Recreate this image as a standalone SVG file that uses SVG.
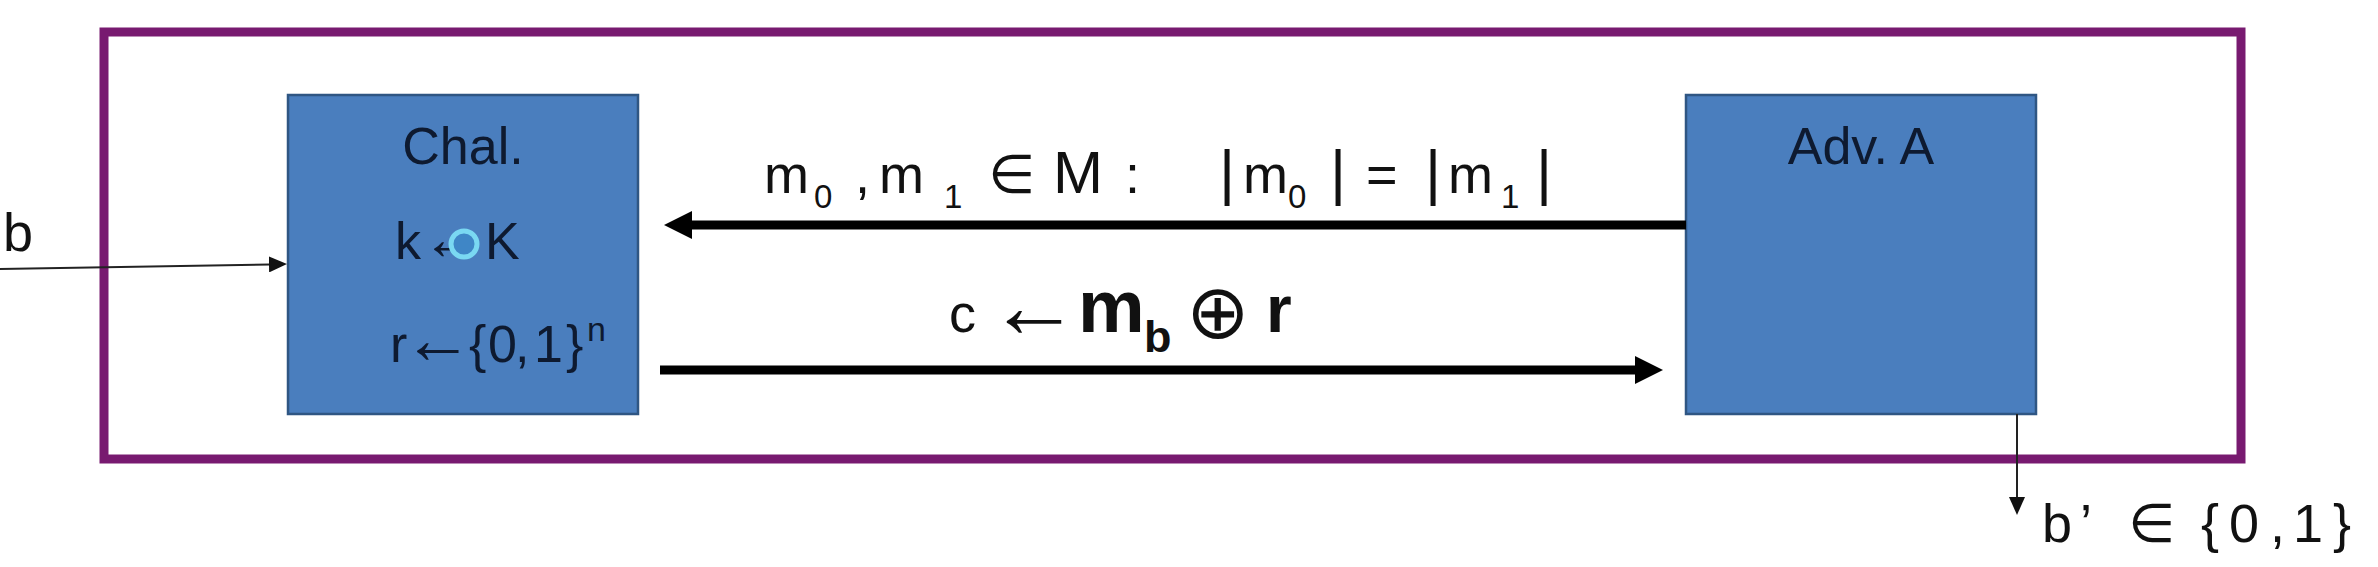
<svg xmlns="http://www.w3.org/2000/svg" width="2378" height="567" viewBox="0 0 2378 567">
<style>
.box{fill:#4a7ebe;stroke:#2f5683;stroke-width:2.5}
.frame{fill:none;stroke:#781a70;stroke-width:9}
.node-txt{font-family:"Liberation Sans",Arial,sans-serif;font-size:52px;fill:#0e1a30}
.lbl{font-family:"Liberation Sans",Arial,sans-serif;font-size:54px;fill:#111}
.sub{font-size:33px}
.math{font-family:"DejaVu Sans",sans-serif}
.thick{stroke:#000;stroke-width:9;fill:none}
.thin{stroke:#222;stroke-width:2;fill:none}
</style>
<defs>
<marker id="headThick" markerUnits="userSpaceOnUse" markerWidth="30" markerHeight="28" viewBox="0 0 30 28" refX="2" refY="14" orient="auto">
<path d="M0,0 L28,14 L0,28 z" fill="#000"/>
</marker>
<marker id="headThin" markerUnits="userSpaceOnUse" markerWidth="20" markerHeight="16" viewBox="0 0 20 16" refX="1" refY="8" orient="auto">
<path d="M0,0 L18,8 L0,16 z" fill="#111"/>
</marker>
</defs>
<rect width="2378" height="567" fill="#fff"/>
<g id="frame">
<rect class="frame" x="104" y="32" width="2137" height="427"/>
</g>
<g id="chal">
<rect class="box" x="288" y="95" width="350" height="319"/>
<text class="node-txt" x="463" y="164" text-anchor="middle">Chal.</text>
<text class="node-txt" y="259"><tspan x="395">k</tspan><tspan x="422" y="259" font-size="60">←</tspan><tspan x="485" y="259">K</tspan></text>
<circle cx="464" cy="244" r="13" fill="#3f86c6" stroke="#7ad8f2" stroke-width="5"/>
<text class="node-txt" y="362"><tspan x="390">r</tspan><tspan x="403" y="363" font-size="70">←</tspan><tspan x="469" y="362">{</tspan><tspan x="488">0</tspan><tspan x="515">,</tspan><tspan x="534">1</tspan><tspan x="566">}</tspan><tspan x="587" y="341" font-size="34">n</tspan></text>
</g>
<g id="adv">
<rect class="box" x="1686" y="95" width="350" height="319"/>
<text class="node-txt" x="1861" y="164" text-anchor="middle">Adv. A</text>
</g>
<g id="connectors">
<line class="thin" x1="0" y1="269" x2="270" y2="264.4" marker-end="url(#headThin)"/>
<line class="thick" x1="1686" y1="225" x2="690" y2="225" marker-end="url(#headThick)"/>
<line class="thick" x1="660" y1="370" x2="1637" y2="370" marker-end="url(#headThick)"/>
<line class="thin" x1="2017" y1="414" x2="2017" y2="498" marker-end="url(#headThin)"/>
</g>
<g id="labels">
<text class="lbl" y="251" font-size="74"><tspan x="3">b</tspan></text>
<text class="lbl" y="193">
<tspan x="764">m</tspan><tspan class="sub" x="814" y="208">0</tspan><tspan x="855" y="193">,</tspan><tspan x="879">m</tspan><tspan class="sub" x="944" y="208">1</tspan><tspan class="math" x="988" y="193">∈</tspan><tspan x="1053" font-size="60">M</tspan><tspan x="1125">:</tspan><tspan x="1219" font-size="62">|</tspan><tspan x="1243">m</tspan><tspan class="sub" x="1288" y="208">0</tspan><tspan x="1330" y="193" font-size="62">|</tspan><tspan x="1366">=</tspan><tspan x="1425" font-size="62">|</tspan><tspan x="1448">m</tspan><tspan class="sub" x="1501" y="208">1</tspan><tspan x="1536" y="193" font-size="62">|</tspan>
</text>
<text class="lbl" y="332">
<tspan x="949" font-size="54">c</tspan><tspan x="988" y="337" font-size="92">←</tspan><tspan x="1078" y="332" font-size="75" font-weight="bold">m</tspan><tspan x="1144" y="352" font-size="45" font-weight="bold">b</tspan><tspan class="math" x="1186" y="338" font-size="76">⊕</tspan><tspan x="1266" y="332" font-size="66" font-weight="bold">r</tspan>
</text>
<text class="lbl" y="542" font-size="76"><tspan x="2042">b</tspan><tspan x="2080">’</tspan><tspan class="math" x="2128">∈</tspan><tspan x="2201">{</tspan><tspan x="2229">0</tspan><tspan x="2270">,</tspan><tspan x="2293">1</tspan><tspan x="2333">}</tspan></text>
</g>
</svg>
